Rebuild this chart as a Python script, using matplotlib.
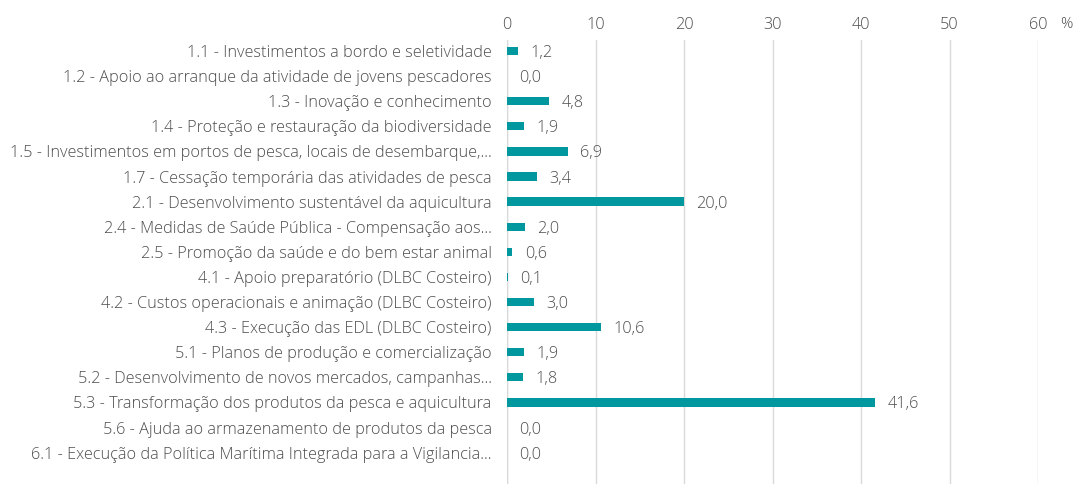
import matplotlib
matplotlib.use("Agg")
import matplotlib.pyplot as plt

categories = [
    "1.1 - Investimentos a bordo e seletividade",
    "1.2 - Apoio ao arranque da atividade de jovens pescadores",
    "1.3 - Inovação e conhecimento",
    "1.4 - Proteção e restauração da biodiversidade",
    "1.5 - Investimentos em portos de pesca, locais de desembarque,...",
    "1.7 - Cessação temporária das atividades de pesca",
    "2.1 - Desenvolvimento sustentável da aquicultura",
    "2.4 - Medidas de Saúde Pública - Compensação aos...",
    "2.5 - Promoção da saúde e do bem estar animal",
    "4.1 - Apoio preparatório (DLBC Costeiro)",
    "4.2 - Custos operacionais e animação (DLBC Costeiro)",
    "4.3 - Execução das EDL (DLBC Costeiro)",
    "5.1 - Planos de produção e comercialização",
    "5.2 - Desenvolvimento de novos mercados, campanhas...",
    "5.3 - Transformação dos produtos da pesca e aquicultura",
    "5.6 - Ajuda ao armazenamento de produtos da pesca",
    "6.1 - Execução da Política Marítima Integrada para a Vigilancia...",
]
values = [1.2, 0.0, 4.8, 1.9, 6.9, 3.4, 20.0, 2.0, 0.6, 0.1, 3.0, 10.6,
          1.9, 1.8, 41.6, 0.0, 0.0]
xticks = [0, 10, 20, 30, 40, 50, 60]

teal = "#00979f"
grey = "#4d4d4d"

plt.rcParams["font.family"] = ["Open Sans", "DejaVu Sans"]
plt.rcParams["font.weight"] = "light"

fig = plt.figure(figsize=(10.75, 4.84), dpi=100)
ax = fig.add_axes([507 / 1075, 0.0, (1038 - 507) / 1075, 1 - 40 / 484])

pos = list(range(len(categories)))
ax.barh(pos, values, height=0.33, color=teal, zorder=3)

for y, v in zip(pos, values):
    ax.text(v + 1.4, y, f"{v:.1f}".replace(".", ","), va="center_baseline",
            ha="left", fontsize=11.7, color=grey)

ax.set_ylim(17.25, -0.44)
ax.set_xlim(0, 60)
ax.set_xticks(xticks)
ax.xaxis.tick_top()
ax.tick_params(axis="x", length=0, pad=5, labelsize=11.7, colors=grey)
ax.tick_params(axis="y", length=0, pad=11, labelsize=11.7, colors=grey)
ax.set_yticks(pos)
ax.set_yticklabels(categories)
ax.grid(axis="x", color="#d9d9d9", linewidth=1, zorder=0)
for s in ax.spines.values():
    s.set_visible(False)
ax.axvline(0, color="#d9d9d9", linewidth=1, zorder=1)

fig.text(1066 / 1075, 1 - 24 / 484, "%", ha="center", va="center",
         fontsize=11, color=grey)

fig.savefig("out.png", dpi=100)
